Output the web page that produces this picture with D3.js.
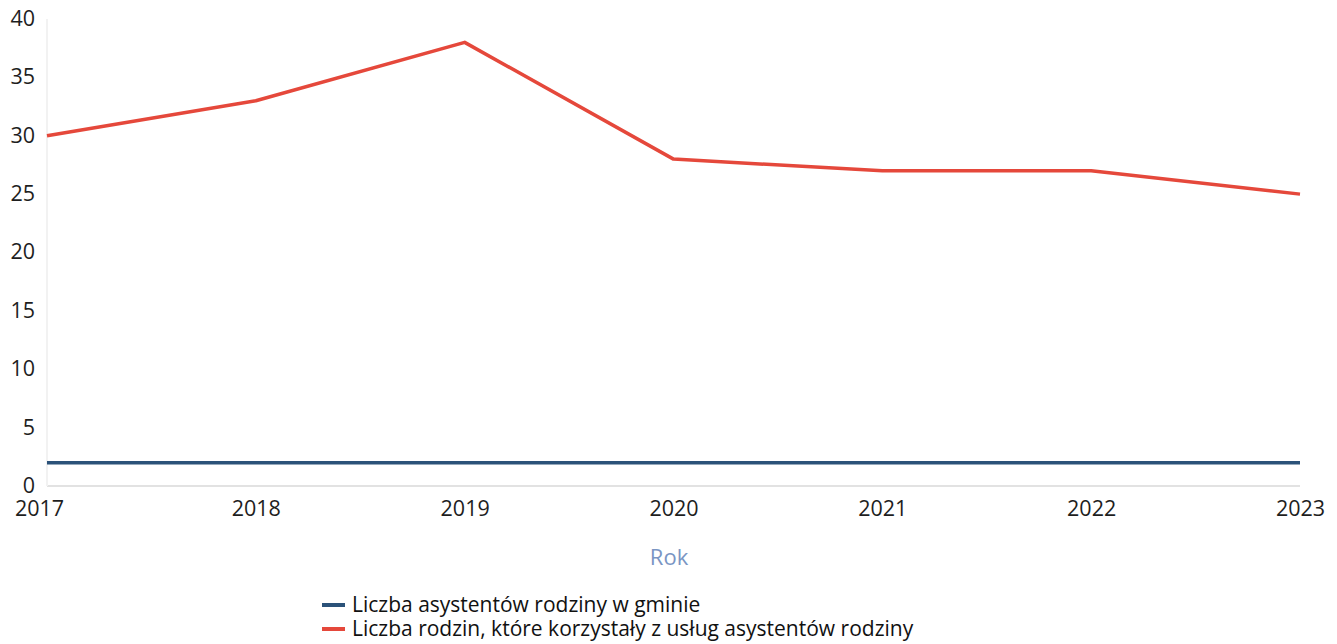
<!DOCTYPE html>
<html><head><meta charset="utf-8">
<script src="https://cdn.jsdelivr.net/npm/d3@7"></script>
<style>body{margin:0;background:#fff;}svg{display:block;font-family:"Open Sans",sans-serif;}</style>
</head><body>
<svg id="c" width="1337" height="644"></svg>
<script>
const years = ["2017","2018","2019","2020","2021","2022","2023"];
const assistants = [2, 2, 2, 2, 2, 2, 2];
const families = [30, 33, 38, 28, 27, 27, 25];
const yTicks = [0,5,10,15,20,25,30,35,40];
const seriesNames = ["Liczba asystentów rodziny w gminie","Liczba rodzin, które korzystały z usług asystentów rodziny"];
const colors = ["#2b5279","#e5483b"];

const svg = d3.select("#c");
const x = d3.scalePoint().domain(years).range([47, 1300]);
const y = d3.scaleLinear().domain([0, 40]).range([486, 19]);

svg.append("line").attr("x1", 47).attr("x2", 1300).attr("y1", y(0)).attr("y2", y(0)).attr("stroke", "#e2e2e2").attr("stroke-width", 2);
svg.append("line").attr("x1", 47).attr("x2", 47).attr("y1", y(40)).attr("y2", y(0)).attr("stroke", "#f2f2f2").attr("stroke-width", 2);

const yAxis = svg.append("g").attr("transform", "translate(47,0)")
  .call(d3.axisLeft(y).tickValues(yTicks).tickSize(0).tickPadding(12));
yAxis.select(".domain").remove();
yAxis.selectAll("text").attr("font-size", 21.5).attr("font-weight", 500).attr("fill", "#1e1e1e").attr("font-family", "Open Sans").attr("dy", "0.3em");

const xAxis = svg.append("g").attr("transform", `translate(0,${y(0)})`)
  .call(d3.axisBottom(x).tickSize(0).tickPadding(17));
xAxis.select(".domain").remove();
xAxis.selectAll("text").attr("font-size", 21.5).attr("font-weight", 500).attr("fill", "#1e1e1e").attr("font-family", "Open Sans").attr("dy", "0.6em");
xAxis.selectAll(".tick").filter(d => d === years[0]).select("text").attr("dx", -8);

svg.append("text").attr("x", 669).attr("y", 565).attr("text-anchor", "middle")
  .attr("font-size", 22).attr("font-weight", 500).attr("fill", "#7a95c3").text("Rok");

const line = d3.line().x((d, i) => x(years[i])).y(d => y(d));
[assistants, families].forEach((s, k) => {
  svg.append("path").datum(s).attr("d", line).attr("fill", "none")
    .attr("stroke", colors[k]).attr("stroke-width", 3.5).attr("stroke-linejoin", "round");
});

const lg = svg.append("g");
seriesNames.forEach((n, k) => {
  const yy = 605 + k * 24;
  lg.append("line").attr("x1", 322).attr("x2", 345).attr("y1", yy).attr("y2", yy)
    .attr("stroke", colors[k]).attr("stroke-width", 4);
  lg.append("text").attr("x", 352).attr("y", yy).attr("dy", "0.35em")
    .attr("font-size", 21).attr("font-weight", 500).attr("fill", "#111").text(n);
});
</script>
</body></html>
